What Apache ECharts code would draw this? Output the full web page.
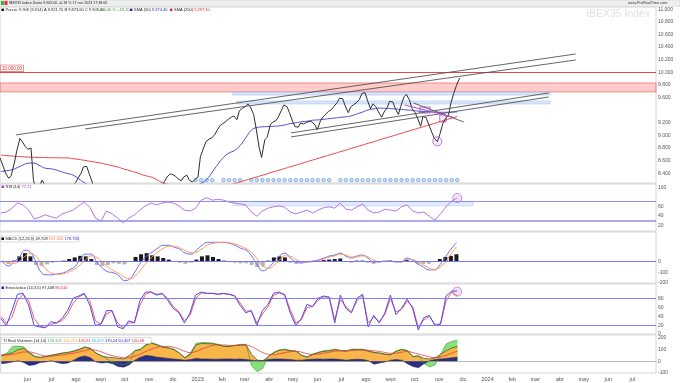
<!DOCTYPE html>
<html><head><meta charset="utf-8">
<script src="https://cdn.jsdelivr.net/npm/echarts@6/dist/echarts.min.js"></script>
<style>html,body{margin:0;padding:0;background:#fff}#c{width:680px;height:383px}</style>
</head><body><div id="c"></div>
<script>
// ---------- DATA ----------
const priceStartDate = '2022-04-28';   // samples on Thu / Mon
const weekStartDate = '2022-04-29';    // weekly samples (Fridays)
const xMinDate = '2022-04-28';
const xMaxDate = '2024-07-31';
const firstLabelDate = '2022-06-01';

const priceClose = [
 8643,8510,8400,8320,8360,8560,8750,8950,8900,8820,
 8780,8800,8300,8080,8180,8290,8220,8080,8000,7940,
 7900,7930,7970,8030,8080,8140,8200,8250,8320,8400,
 8500,8510,8400,8260,8120,8020,7950,7900,7830,7750,
 7670,7580,7500,7420,7380,7350,7320,7310,7400,7500,
 7610,7720,7830,7920,8000,8060,8110,8140,8190,8270,
 8340,8390,8380,8350,8310,8280,8340,8370,8290,8260,
 8300,8340,8660,8800,8900,8940,8960,9010,9080,9160,
 9185,9220,9255,9290,9310,9250,9390,9430,9450,9500,
 9450,9330,9120,8800,8650,8930,8970,9170,9210,9235,
 9290,9400,9480,9455,9360,9220,9140,9130,9195,9180,
 9205,9220,9215,9170,9090,9230,9290,9340,9380,9410,
 9460,9520,9590,9580,9470,9360,9450,9490,9515,9570,
 9660,9680,9560,9420,9500,9450,9370,9290,9370,9440,
 9540,9530,9430,9330,9460,9610,9650,9560,9430,9360,
 9276,9145,9300,9280,9180,9050,8960,8900,9010,9190,
 9260,9320,9510,9680,9790,9909];

const sma50 = [
 8425,8440,8455,8490,8530,8560,8560,8520,8480,8470,
 8450,8420,8395,8370,8310,8250,8200,8150,8100,8020,
 7930,7840,7750,7680,7620,7590,7600,7640,7700,7780,
 7870,7960,8040,8110,8160,8200,8240,8300,8420,8540,
 8650,8720,8760,8840,8960,9080,9125,9135,9140,9145,
 9150,9165,9185,9200,9215,9225,9240,9245,9255,9265,
 9275,9285,9295,9310,9340,9370,9403,9420,9432,9430,
 9425,9418,9410,9403,9395,9385,9378,9372,9368,9366,
 9366,9368,9372];

const sma200 = [
 8688,8680,8672,8665,8660,8655,8652,8650,8648,8646,
 8645,8643,8642,8630,8620,8605,8590,8575,8560,8540,
 8520,8500,8470,8445,8420,8390,8360,8340,8300,8250,
 8225,8190,8170,8150,8135,8125,8120,8125,8140,8160,
 8190,8215,8235,8262,8289,8315,8342,8368,8395,8422,
 8448,8475,8501,8528,8555,8581,8608,8634,8661,8688,
 8714,8741,8767,8794,8821,8847,8874,8900,8927,8954,
 8980,9007,9033,9060,9087,9113,9140,9166,9193,9220,
 9246,9273,9300];

const rsi = [
 46,48,56,67,63,52,33,37,42,38,
 35,44,48,52,61,69,58,35,29,50,
 44,35,25,35,42,52,61,67,63,67,
 69,67,61,52,50,56,73,78,73,75,
 73,69,67,65,63,48,39,50,56,59,
 61,58,48,44,48,52,46,52,57,59,
 56,67,54,52,59,65,52,46,48,54,
 52,50,59,63,50,46,48,39,31,44,
 59,71,77.71];

const macd = [
 -3,-40,-3,43,108,89,-3,-104,-123,-123,
 -113,-104,-77,-49,25,71,71,-3,-58,-95,
 -104,-132,-178,-159,-86,-3,53,89,126,154,
 154,135,117,80,71,108,154,182,182,182,
 182,172,154,126,108,53,-30,-86,-58,-3,
 53,80,34,-3,-12,-3,6,16,34,53,
 62,80,53,34,53,62,34,-3,-3,6,
 6,-3,-3,34,16,-21,-49,-77,-77,-30,
 43,117,178.78];

const macdSignal = [
 10,-10,-15,5,50,80,50,-20,-80,-110,
 -118,-112,-95,-70,-30,20,55,40,-5,-50,
 -85,-110,-145,-160,-130,-70,-10,45,90,125,
 145,145,130,105,85,90,120,155,172,180,
 182,178,166,145,122,85,25,-40,-62,-35,
 15,55,50,20,0,-5,0,10,25,42,
 55,70,62,45,45,55,45,15,2,2,
 4,2,0,20,20,0,-30,-58,-72,-55,
 0,70,140];

const macdHist = [
 -5,-20,10,50,80,50,-30,-40,-25,-10,
 5,10,25,40,55,50,25,-30,-40,-30,
 -15,-20,-25,5,45,70,80,60,50,35,
 20,0,-10,-20,-10,20,50,60,45,25,
 10,-5,-10,-15,-15,-30,-50,-45,10,40,
 50,40,-10,-20,-10,0,5,10,15,20,
 25,30,0,-10,10,10,-10,-20,-5,5,
 10,0,-5,15,0,-20,-20,-20,-5,25,
 45,55,70];

const stochK = [
 35,19,53,90,92,65,19,16,14,28,
 25,35,53,81,86,92,65,19,23,53,
 53,16,12,30,25,76,95,95,88,92,
 76,58,48,25,48,88,95,92,92,90,
 92,90,86,65,48,53,19,53,67,92,
 95,88,48,19,35,67,62,81,86,83,
 25,88,58,48,81,90,16,42,25,48,
 88,44,58,79,58,9,37,42,19,23,
 86,97,97.45];

const stochD = [
 40,25,38,75,90,75,35,18,15,22,
 25,30,45,70,84,90,75,30,22,45,
 52,25,14,25,26,65,90,95,90,91,
 80,62,50,30,42,80,93,92,92,90,
 91,90,87,70,52,52,25,45,62,87,
 93,90,55,25,32,60,62,76,84,84,
 32,78,62,50,75,88,25,38,28,44,
 80,50,56,74,62,15,32,40,22,22,
 75,95,86.52];

const volOrange = [
 46,60,73,100,110,70,40,32,40,50,
 60,70,75,86,100,120,110,70,46,35,
 32,25,20,50,90,100,140,154,140,120,
 114,100,70,30,60,140,154,150,150,140,
 127,127,135,140,140,60,10,5,40,75,
 95,100,90,85,50,35,60,75,86,90,
 100,90,86,100,100,100,86,75,70,60,
 55,86,100,90,40,45,25,20,30,60,
 90,114,127];

const volGreen = [
 50,70,127,130,125,80,45,35,42,55,
 62,72,78,90,105,125,112,72,48,20,
 -10,-22,-30,-15,92,105,145,160,145,125,
 118,105,72,32,70,154,160,160,155,145,
 130,130,138,145,145,-40,-89,-60,42,78,
 98,104,92,88,52,38,62,78,90,94,
 104,94,90,104,104,104,90,78,72,62,
 58,90,104,94,42,48,-20,-49,-30,62,
 150,170,181];

const volNavy = [
 -20,-15,-5,5,-10,-35,-30,-10,-5,5,
 -10,-20,-15,10,35,46,30,-5,-15,-10,
 -20,-45,-50,-30,10,35,50,45,35,30,
 25,20,15,10,15,25,20,20,18,18,
 20,20,18,20,15,10,5,5,15,20,
 20,18,15,10,10,15,18,20,18,20,
 20,15,10,15,18,15,5,-25,-15,-5,
 10,15,10,-20,-45,-55,-20,5,15,20,
 25,30,35];

const volRed = [
 55,55,60,70,80,80,70,55,45,45,
 50,55,62,70,80,92,100,95,80,62,
 48,38,30,32,45,62,85,105,120,128,
 128,120,105,85,75,85,105,122,135,140,
 140,136,135,136,138,125,100,75,60,58,
 65,75,82,85,78,65,60,62,70,78,
 86,90,90,92,95,97,95,90,84,76,
 68,70,78,84,75,62,50,38,32,38,
 52,70,88];

// weekly indices carrying an event marker
const eventWeeks = [35,36,37,38,40,41,42,43,45,46,47,48,49,50,51,52,53,54,55,56,57,58,59,61,62,63,64,65,66,67,68,69,70,71,72,73,74,75,76,77,78,79,80,81,82];

// drawn trend lines: [startDate, startValue, endDate, endValue]
const trendLines = [
 ['2022-05-18', 9007, '2024-04-21', 10290],
 ['2022-08-13', 9102, '2024-04-21', 10195],
 ['2023-04-29', 9039, '2024-03-18', 9672],
 ['2023-04-29', 8975, '2024-03-18', 9609],
 ['2023-09-30', 9514, '2023-12-02', 9213]
];
const purpleLine = ['2023-09-19', 9482, '2023-11-18', 9292];
const purpleBoxes = [
 ['2023-10-08', 9354, '2023-10-21', 9449],
 ['2023-11-02', 9213, '2023-11-10', 9324]
];
const resistanceLevel = 10000;
const redZone = [9690, 9830];
const blueZones = [
 ['2023-02-14', 9640, '2024-03-20', 9688],
 ['2023-02-20', 9498, '2024-03-20', 9545]
];
const rsiZone = ['2023-02-15', 61, '2023-12-14', 70];
const vBottom = ['2023-10-30', 8905];

const monthNames = ['ene','feb','mar','abr','may','jun','jul','ago','sept','oct','nov','dic'];

// ---------- BUILD ----------
const DAY = 86400000;
function parseD(s){const p=s.split('-');return new Date(+p[0],+p[1]-1,+p[2]).getTime();}
const p0 = parseD(priceStartDate), w0 = parseD(weekStartDate);
const priceDates = priceClose.map((_, i) => p0 + (Math.floor(i/2)*7 + (i%2 ? 4 : 0)) * DAY);
const weekDates = sma50.map((_, k) => w0 + 7*k*DAY);
const pair = (dates, vals) => vals.map((v, i) => [dates[i], v]);
const fmtNum = (v, dec) => {
  const s = Math.abs(v).toFixed(dec).split('.');
  const int = s[0].replace(/\B(?=(\d{3})+(?!\d))/g, '.');
  return (v < 0 ? '-' : '') + int + (dec ? ',' + s[1] : '');
};
const last = a => a[a.length-1];

const FONT = 'Liberation Sans';
const xMin = parseD(xMinDate), xMax = parseD(xMaxDate), firstLabel = parseD(firstLabelDate);

function valLabel(v, text, color, bg, border, bold){
  return {yAxis: v, lineStyle:{opacity:0}, label:{show:true, position:'end', distance:2, formatter:text,
    color:color, backgroundColor:bg, borderColor:border, borderWidth: border?0.6:0, padding:[1,1.5,0,1.5],
    fontSize:5, fontFamily:FONT, fontWeight: bold?'bold':'normal'}};
}

const gridTops = [7,184,232,284,335], gridH = [176,47,51,50,38];
const grids = gridTops.map((t,i)=>({left:0,right:24,top:t,height:gridH[i],show:true,borderColor:'#c9c9c9',borderWidth:0.8}));

const xAxes = grids.map((g,i)=>({type:'time',gridIndex:i,min:xMin,max:xMax,
  splitLine:{show:false},axisTick:{show:false},
  axisLine:{show:i===4,lineStyle:{color:'#bbb'}},
  splitNumber:27, minInterval:28*DAY, maxInterval:31*DAY,
  axisLabel: i===4 ? {show:true,fontSize:5.5,color:'#555',fontFamily:FONT,margin:3,hideOverlap:false,
     formatter:(val)=>{const d=new Date(val); if (val < firstLabel - DAY) return ''; return d.getMonth()===0? String(d.getFullYear()) : monthNames[d.getMonth()];}}
   : {show:false}
}));

function yAx(i,min,max,opt,fmt,showMin){
  return Object.assign({type:'value',gridIndex:i,position:'right',min:min,max:max,
    splitLine:{show:false},axisLine:{show:false},axisTick:{show:false},
    axisLabel:{fontSize:5,color:'#555',fontFamily:FONT,margin:2,showMinLabel:!!showMin,showMaxLabel:false,hideOverlap:false,formatter:fmt}}, opt);
}
const yAxes = [
  yAx(0,8245,11035,{splitNumber:14},v=> (v===9400?'':fmtNum(v,0))),
  yAx(1,7.8,107.2,{splitNumber:5},v=> (v===80?'':String(v))),
  yAx(2,-200,279,{interval:100},v=> (v===100||v===200?'':String(v)),true),
  yAx(3,0,113.2,{interval:20},v=> (v===100?'':String(v)),true),
  yAx(4,-100,225,{interval:100},v=>String(v),true)
];

const series = [];
// price
series.push({type:'line',xAxisIndex:0,yAxisIndex:0,data:pair(priceDates,priceClose),symbol:'none',
  lineStyle:{color:'#2e2e2e',width:1},z:5,
  markLine:{symbol:'none',silent:true,data:[
    {yAxis:resistanceLevel,lineStyle:{color:'#ee4444',width:1,type:'solid'},
      label:{show:true,position:'insideStartTop',distance:1,formatter:fmtNum(resistanceLevel,2),fontSize:4.5,color:'#d03030',
        borderColor:'#e05050',borderWidth:0.6,backgroundColor:'#fff',padding:[1,1,0,1],fontFamily:FONT}},
    valLabel(last(priceClose), fmtNum(last(priceClose),2), '#000', '#ffd800', null, true),
    valLabel(last(sma50), fmtNum(last(sma50)+2.4,2), '#2020c0', '#fff', '#5050d0'),
    valLabel(last(sma200)-8, fmtNum(last(sma200)-2.9,2), '#e02020', '#fff', '#e05050')
  ]},
  markArea:{silent:true,data:[
    [{yAxis:redZone[0],itemStyle:{color:'rgba(255,140,140,0.45)',borderColor:'#f07070',borderWidth:0.8}},{yAxis:redZone[1]}],
    ...blueZones.map(z=>[{xAxis:parseD(z[0]),yAxis:z[1],itemStyle:{color:'rgba(150,185,245,0.35)',borderColor:'#a8c4f4',borderWidth:0.6}},{xAxis:parseD(z[2]),yAxis:z[3]}]),
    ...purpleBoxes.map(z=>[{xAxis:parseD(z[0]),yAxis:z[1],itemStyle:{color:'rgba(190,120,230,0.15)',borderColor:'#b050d0',borderWidth:0.8}},{xAxis:parseD(z[2]),yAxis:z[3]}])
  ]}
});
series.push({type:'line',xAxisIndex:0,yAxisIndex:0,data:pair(weekDates,sma50),symbol:'none',smooth:true,lineStyle:{color:'#4b4bd6',width:1},z:4});
series.push({type:'line',xAxisIndex:0,yAxisIndex:0,data:pair(weekDates,sma200),symbol:'none',smooth:true,lineStyle:{color:'#e84040',width:1},z:4});
trendLines.forEach(t=>series.push({type:'line',xAxisIndex:0,yAxisIndex:0,data:[[parseD(t[0]),t[1]],[parseD(t[2]),t[3]]],
  symbol:'none',lineStyle:{color:'#555',width:0.9},z:6,silent:true}));
series.push({type:'line',xAxisIndex:0,yAxisIndex:0,data:[[parseD(purpleLine[0]),purpleLine[1]],[parseD(purpleLine[2]),purpleLine[3]]],
  symbol:'none',lineStyle:{color:'#b050d0',width:1},z:6,silent:true});
series.push({type:'scatter',xAxisIndex:0,yAxisIndex:0,data:eventWeeks.map(k=>[weekDates[k],8290]),symbol:'circle',symbolSize:3.6,
  itemStyle:{color:'#b7d3f5',borderColor:'#5a8fd8',borderWidth:0.7},z:3,silent:true});
series.push({type:'scatter',xAxisIndex:0,yAxisIndex:0,data:[[parseD(vBottom[0]),vBottom[1]]],symbol:'circle',symbolSize:9,
  itemStyle:{color:'rgba(190,120,230,0.15)',borderColor:'#b050d0',borderWidth:1},z:7,silent:true});

// RSI
series.push({type:'line',xAxisIndex:1,yAxisIndex:1,data:pair(weekDates,rsi),symbol:'none',lineStyle:{color:'#b576e8',width:1},
  markLine:{symbol:'none',silent:true,data:[
    {yAxis:70,lineStyle:{color:'#8f8ff0',width:1,type:'solid'},label:{show:false}},
    {yAxis:30,lineStyle:{color:'#8f8ff0',width:1.6,type:'solid'},label:{show:false}},
    valLabel(last(rsi), fmtNum(last(rsi),2), '#9a40d0', '#fff', '#c090e0')
  ]},
  markArea:{silent:true,data:[[{xAxis:parseD(rsiZone[0]),yAxis:rsiZone[1],itemStyle:{color:'rgba(160,190,250,0.3)',borderColor:'#b0c8f5',borderWidth:0.6}},{xAxis:parseD(rsiZone[2]),yAxis:rsiZone[3]}]]}
});
series.push({type:'scatter',xAxisIndex:1,yAxisIndex:1,data:[[last(weekDates),last(rsi)]],symbol:'circle',symbolSize:9,
  itemStyle:{color:'rgba(200,120,230,0.25)',borderColor:'#b050d0',borderWidth:0.8},silent:true});

// MACD
series.push({type:'bar',xAxisIndex:2,yAxisIndex:2,data:pair(weekDates,macdHist),barWidth:4,
  itemStyle:{color:p=>p.value[1]>=0?'#1a1a1a':'#b5b5b5'},
  markLine:{symbol:'none',silent:true,data:[
    {yAxis:0,lineStyle:{color:'#7a7ae8',width:1,type:'solid'},label:{show:false}},
    valLabel(last(macd), fmtNum(last(macd),3), '#3030e0', '#fff', '#7070e0'),
    valLabel(last(macdSignal)+12, fmtNum(last(macdSignal)+17.2,3), '#ff6020', '#fff', '#ff9060'),
    valLabel(last(macdHist)+55, fmtNum(last(macdHist)-19.29,3), '#000', '#fff', '#888')
  ]}});
series.push({type:'line',xAxisIndex:2,yAxisIndex:2,data:pair(weekDates,macd),symbol:'none',smooth:true,lineStyle:{color:'#6b6bff',width:1}});
series.push({type:'line',xAxisIndex:2,yAxisIndex:2,data:pair(weekDates,macdSignal),symbol:'none',smooth:true,lineStyle:{color:'#ff9a50',width:1}});

// Stochastic
series.push({type:'line',xAxisIndex:3,yAxisIndex:3,data:pair(weekDates,stochD),symbol:'none',lineStyle:{color:'#ff5a5a',width:1},
  markLine:{symbol:'none',silent:true,data:[
    {yAxis:80,lineStyle:{color:'#8080f0',width:1,type:'solid'},label:{show:false}},
    {yAxis:20,lineStyle:{color:'#8080f0',width:1,type:'solid'},label:{show:false}},
    valLabel(104, fmtNum(last(stochK),3), '#2020e0', '#fff', '#7070e0'),
    valLabel(93, fmtNum(last(stochD),3), '#ff3030', '#fff', '#ff8080')
  ]}});
series.push({type:'line',xAxisIndex:3,yAxisIndex:3,data:pair(weekDates,stochK),symbol:'none',lineStyle:{color:'#4a4aff',width:1}});
series.push({type:'scatter',xAxisIndex:3,yAxisIndex:3,data:[[last(weekDates),96]],symbol:'circle',symbolSize:9,
  itemStyle:{color:'rgba(200,120,230,0.25)',borderColor:'#b050d0',borderWidth:0.8},silent:true});

// bottom volume-type indicator
series.push({type:'line',xAxisIndex:4,yAxisIndex:4,data:pair(weekDates,volGreen),symbol:'none',lineStyle:{width:0.6,color:'#3a9a3a'},
  areaStyle:{color:'#86e07c',opacity:1}});
series.push({type:'line',xAxisIndex:4,yAxisIndex:4,data:pair(weekDates,volOrange),symbol:'none',lineStyle:{width:0.8,color:'#4a5a20'},
  areaStyle:{color:'#f7b54a',opacity:1}});
series.push({type:'line',xAxisIndex:4,yAxisIndex:4,data:pair(weekDates,volNavy),symbol:'none',lineStyle:{width:0.5,color:'#1a1f60'},
  areaStyle:{color:'#2a2f85',opacity:1},
  markLine:{symbol:'none',silent:true,data:[valLabel(50, fmtNum(50.457,3), '#2020c0', '#fff', '#7070e0')]}});
series.push({type:'line',xAxisIndex:4,yAxisIndex:4,data:pair(weekDates,volRed),symbol:'none',smooth:true,lineStyle:{width:0.8,color:'#e03a3a'}});

const tiny = {fontFamily:FONT,fontSize:4};
const graphic = [
  {type:'rect',shape:{x:0,y:0,width:680,height:6.5},style:{fill:'#eeeeee',stroke:'#cfcfcf',lineWidth:0.5},z:100},
  {type:'rect',shape:{x:1,y:1,width:3,height:4},style:{fill:'#3cb040'},z:101},
  {type:'rect',shape:{x:4.5,y:1,width:3,height:4},style:{fill:'#e03030'},z:101},
  {type:'text',x:9,y:1.2,z:101,style:{text:'IBEX35 Indice Diario 9.909,00 +0,18 % 17 nov 2023 17:38:00',fill:'#222',fontFamily:FONT,fontSize:3.6}},
  {type:'text',x:628,y:1.3,z:101,style:{text:'www.ProRealTime.com',fill:'#333',fontFamily:FONT,fontSize:3.8}},
  {type:'text',x:586,y:9,z:1,style:{text:'IBEX35 Index',fill:'#e2e2e2',fontFamily:FONT,fontSize:10.5}},
  {type:'rect',shape:{x:1.5,y:8.6,width:2.4,height:2.4},style:{fill:'#000'},z:101},
  {type:'text',x:5.5,y:8.3,z:101,style:{text:'Precio: 9.909 (9.914) A 9.921,70 B 9.873,60 C 9.909,00',fill:'#222',...tiny}},
  {type:'text',x:99,y:8.3,z:101,style:{text:'+50,40 % +18,10',fill:'#30a030',...tiny}},
  {type:'rect',shape:{x:130,y:8.6,width:2.4,height:2.4},style:{fill:'#2020c0'},z:101},
  {type:'text',x:134,y:8.3,z:101,style:{text:'{a|SMA (50) }{b|9.374,40}',rich:{a:{fill:'#222',...tiny},b:{fill:'#2020c0',...tiny}}}},
  {type:'rect',shape:{x:170,y:8.6,width:2.4,height:2.4},style:{fill:'#e02020'},z:101},
  {type:'text',x:174,y:8.3,z:101,style:{text:'{a|SMA (200) }{b|9.297,10}',rich:{a:{fill:'#222',...tiny},b:{fill:'#e02020',...tiny}}}},
  {type:'rect',shape:{x:1.5,y:185.5,width:2.5,height:2.5},style:{fill:'#9a40d0'},z:101},
  {type:'text',x:5.5,y:185,z:101,style:{text:'{a|RSI (14) }{b|77,71}',rich:{a:{fill:'#222',...tiny},b:{fill:'#9a40d0',...tiny}}}},
  {type:'rect',shape:{x:1,y:236,width:78,height:6},style:{fill:'#fff',stroke:'#bbb',lineWidth:0.5},z:100},
  {type:'rect',shape:{x:1.5,y:237.5,width:2.5,height:2.5},style:{fill:'#000'},z:101},
  {type:'text',x:5.5,y:237.2,z:101,style:{text:'{a|MACD (12,26,9) 49,708 }{o|157,210 }{b|178,780}',rich:{a:{fill:'#222',...tiny},o:{fill:'#ff7020',...tiny},b:{fill:'#3030e0',...tiny}}}},
  {type:'rect',shape:{x:1.5,y:286.5,width:2.5,height:2.5},style:{fill:'#2020c0'},z:101},
  {type:'text',x:5.5,y:286.2,z:101,style:{text:'{a|Estocástico (14,3,5) 97,448 }{r|86,516}',rich:{a:{fill:'#222',...tiny},r:{fill:'#e02020',...tiny}}}},
  {type:'rect',shape:{x:1,y:337.5,width:150,height:6},style:{fill:'#fff',stroke:'#bbb',lineWidth:0.5},z:100},
  {type:'text',x:3,y:338.7,z:101,style:{text:'{a|TI Real Volumen (14,14) }{g|120,121 }{o|113,213 }{r|135,21 }{c|50,457 }{n|170,24 }{b|50,457 }{r|120,48}',
    rich:{a:{fill:'#222',...tiny},g:{fill:'#40b040',...tiny},o:{fill:'#f0a030',...tiny},r:{fill:'#e02020',...tiny},c:{fill:'#20b0d0',...tiny},n:{fill:'#202070',...tiny},b:{fill:'#2020c0',...tiny}}}}
];

const chart = echarts.init(document.getElementById('c'), null, {renderer:'canvas'});
chart.setOption({animation:false,backgroundColor:'#fff',textStyle:{fontFamily:FONT},
  grid:grids,xAxis:xAxes,yAxis:yAxes,series:series,graphic:graphic});
</script></body></html>
